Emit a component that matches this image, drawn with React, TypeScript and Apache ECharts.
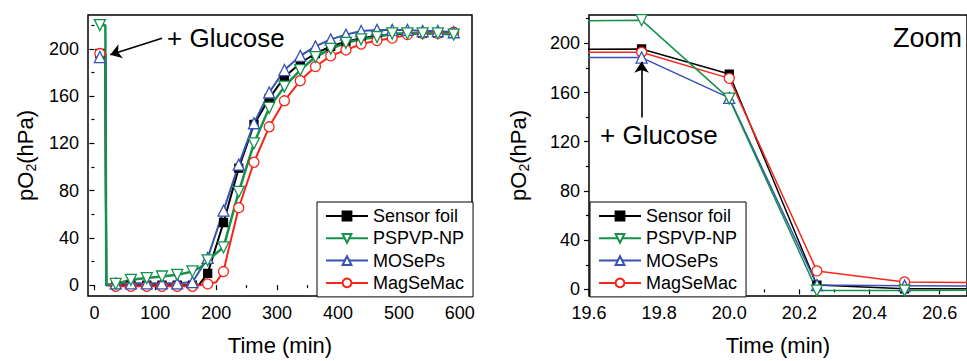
import React, { useEffect, useRef } from "react";
import * as echarts from "echarts";

const FONT = "'Liberation Sans', Arial, Helvetica, sans-serif";

const seriesNames = ["Sensor foil", "PSPVP-NP", "MOSePs", "MagSeMac"];
const seriesColors = ["#000000", "#14924b", "#3552b4", "#f5261b"];
const seriesSymbols = ["rect", "triangle", "triangle", "circle"];
const seriesSymbolRotate = [0, 180, 0, 0];
const seriesSymbolFill = ["#000000", "#ffffff", "#ffffff", "#ffffff"];
const seriesSymbolSize = [8, 11, 11, 10];

// Full run (left panel): times where markers are drawn
const markerTimes = [9, 35, 60, 86, 111, 136, 161, 186, 212, 237, 262, 287, 312, 338, 363, 388, 413, 438, 464, 489, 514, 539, 564, 590];
const sensorFoilMarkers = [196, 0, 0, 0, 0, 0, 0, 10, 53, 99, 136, 158, 176, 188, 196, 202, 206, 209, 211, 212, 213, 213, 213, 213];
const pspvpMarkers = [220, 1, 4.5, 6, 7.3, 8.7, 11.6, 21, 32, 79, 120, 150, 168, 182, 193, 200, 205, 208, 210, 213, 213, 213, 213, 212];
const mosepsMarkers = [193, 1.5, 1.5, 1.5, 1.5, 1.5, 2.5, 23, 63, 102, 137, 163, 182, 194, 202, 208, 212, 215, 216, 216, 216, 215, 215, 214];
const magsemacMarkers = [196, -1, -1, -1, -1, -1, -1, 1, 11.5, 65.5, 104, 134, 156, 173, 185, 194, 199, 204, 207, 209, 212, 213, 213, 214];

// Extra points on the traces (no marker)
const sensorFoilTrace = [[18, 196], [19.5, 0], [172, 0.5]];
const pspvpTrace = [[18, 220], [19.5, 0], [24, 0.5], [174, 15]];
const mosepsTrace = [[18, 193], [19.5, 0]];
const magsemacTrace = [[18, 196], [19.5, 0], [200, 2.5], [218, 25]];

// Zoom (right panel)
const zoomTimes = [19.5, 19.75, 20.0, 20.25, 20.5, 20.75];
const sensorFoilZoom = [195, 195.4, 175, 3.5, 0.5, 0.5];
const pspvpZoom = [218, 218.8, 155, -1, -1, -0.5];
const mosepsZoom = [188.4, 188.4, 155.6, 3.5, 3, 2.5];
const magsemacZoom = [192.7, 192.7, 171.5, 15, 6, 5.5];

// Ticks
const leftXTicks = [0, 100, 200, 300, 400, 500, 600];
const leftXMinor = [50, 150, 250, 350, 450, 550];
const yTicks = [0, 40, 80, 120, 160, 200];
const yMinor = [20, 60, 100, 140, 180, 220];
const rightXTicks = [19.6, 19.8, 20.0, 20.2, 20.4, 20.6];
const rightXMinor = [19.7, 19.9, 20.1, 20.3, 20.5];

function buildFull(markers: number[], trace: number[][]) {
  const pts: any[] = markerTimes.map((t, i) => ({ value: [t, markers[i]] }));
  const extra = trace.map(([t, y]) => ({ value: [t, y], symbol: "none" }));
  return [...pts, ...extra].sort((a, b) => a.value[0] - b.value[0]);
}

export default function App() {
  const ref = useRef<HTMLDivElement>(null);
  useEffect(() => {
    if (!ref.current) return;
    const chart = echarts.init(ref.current, undefined, { renderer: "svg" });
    const fullData = [
      buildFull(sensorFoilMarkers, sensorFoilTrace),
      buildFull(pspvpMarkers, pspvpTrace),
      buildFull(mosepsMarkers, mosepsTrace),
      buildFull(magsemacMarkers, magsemacTrace),
    ];
    const zoomData = [sensorFoilZoom, pspvpZoom, mosepsZoom, magsemacZoom].map((arr) =>
      zoomTimes.map((t, i) => [t, arr[i]])
    );
    const drawOrder = [0, 3, 2, 1];
    const axisLabelStyle = { fontSize: 18, color: "#000", fontFamily: FONT };
    const nameStyle = {
      fontSize: 22,
      color: "#000",
      fontFamily: FONT,
      rich: {
        sub: { fontSize: 14, fontFamily: FONT, color: "#000", verticalAlign: "bottom", padding: [12, 0, 0, 0] },
      },
    };
    const mkSeries = (i: number, panel: number, order: number) => ({
      type: "line",
      name: seriesNames[i],
      xAxisIndex: panel === 0 ? 0 : 2,
      yAxisIndex: panel === 0 ? 0 : 2,
      data: panel === 0 ? fullData[i] : zoomData[i],
      symbol: seriesSymbols[i],
      symbolRotate: seriesSymbolRotate[i],
      symbolSize: seriesSymbolSize[i],
      showAllSymbol: true,
      clip: true,
      lineStyle: { color: seriesColors[i], width: panel === 0 ? (i === 1 ? 2.5 : 2) : 1.5 },
      itemStyle: { color: seriesSymbolFill[i], borderColor: seriesColors[i], borderWidth: 1.3 },
      emphasis: { disabled: true },
      z: 3,
      zlevel: 0,
    });
    const series: any[] = [];
    drawOrder.forEach((i, k) => series.push(mkSeries(i, 0, k)));
    drawOrder.forEach((i, k) => series.push(mkSeries(i, 1, k)));
    const arrowLine = {
      silent: true,
      symbol: ["none", "arrow"],
      symbolSize: 11,
      lineStyle: { color: "#000", width: 1.6, type: "solid" },
      label: { show: false },
      emphasis: { disabled: true },
    };
    series.push({
      type: "line",
      xAxisIndex: 0,
      yAxisIndex: 0,
      data: [],
      markLine: { ...arrowLine, data: [[{ coord: [111, 209] }, { coord: [26, 195] }]] },
    });
    series.push({
      type: "line",
      xAxisIndex: 2,
      yAxisIndex: 2,
      data: [],
      markLine: { ...arrowLine, data: [[{ coord: [19.75, 139.6] }, { coord: [19.75, 185] }]] },
    });

    const legendBase = {
      orient: "vertical",
      top: 202,
      backgroundColor: "#fff",
      borderColor: "#000",
      borderWidth: 1,
      borderRadius: 0,
      padding: [4, 9, 4, 8],
      itemWidth: 42,
      itemHeight: 11,
      itemGap: 2.3,
      selectedMode: false,
      data: seriesNames,
      textStyle: { fontSize: 18, color: "#000", fontFamily: FONT, lineHeight: 20 },
      z: 10,
    };

    chart.setOption({
      animation: false,
      textStyle: { fontFamily: FONT },
      grid: [
        { left: 88, top: 15, width: 384, height: 283, show: true, borderColor: "#000", borderWidth: 1.5, backgroundColor: "transparent" },
        { left: 589, top: 15, width: 388, height: 283, show: true, borderColor: "#000", borderWidth: 1.5, backgroundColor: "transparent" },
      ],
      xAxis: [
        {
          gridIndex: 0, type: "value", min: -10.5, max: 620, position: "bottom",
          axisLine: { show: false }, splitLine: { show: false },
          axisTick: { show: true, inside: false, length: 5, customValues: leftXTicks, lineStyle: { color: "#000", width: 1.2 } },
          axisLabel: { ...axisLabelStyle, margin: 8, customValues: leftXTicks },
          name: "Time (min)", nameLocation: "middle", nameGap: 38, nameTextStyle: { fontSize: 22, color: "#000", fontFamily: FONT, fontWeight: "normal" },
        },
        {
          gridIndex: 0, type: "value", min: -10.5, max: 620, position: "bottom",
          axisLine: { show: false }, splitLine: { show: false }, axisLabel: { show: false },
          axisTick: { show: true, inside: false, length: 3, customValues: leftXMinor, lineStyle: { color: "#000", width: 1.2 } },
        },
        {
          gridIndex: 1, type: "value", min: 19.6, max: 20.678, position: "bottom",
          axisLine: { show: false }, splitLine: { show: false },
          axisTick: { show: true, inside: false, length: 5, customValues: rightXTicks, lineStyle: { color: "#000", width: 1.2 } },
          axisLabel: { ...axisLabelStyle, margin: 8, customValues: rightXTicks, formatter: (v: number) => v.toFixed(1) },
          name: "Time (min)", nameLocation: "middle", nameGap: 38, nameTextStyle: { fontSize: 22, color: "#000", fontFamily: FONT, fontWeight: "normal" },
        },
        {
          gridIndex: 1, type: "value", min: 19.6, max: 20.678, position: "bottom",
          axisLine: { show: false }, splitLine: { show: false }, axisLabel: { show: false },
          axisTick: { show: true, inside: false, length: 3, customValues: rightXMinor, lineStyle: { color: "#000", width: 1.2 } },
        },
      ],
      yAxis: [
        {
          gridIndex: 0, type: "value", min: -9.2, max: 228.6, position: "left",
          axisLine: { show: false }, splitLine: { show: false },
          axisTick: { show: true, inside: false, length: 5, customValues: yTicks, lineStyle: { color: "#000", width: 1.2 } },
          axisLabel: { ...axisLabelStyle, margin: 9, customValues: yTicks },
          name: "pO{sub|2}(hPa)", nameLocation: "middle", nameGap: 50, nameTextStyle: nameStyle,
        },
        {
          gridIndex: 0, type: "value", min: -9.2, max: 228.6, position: "left",
          axisLine: { show: false }, splitLine: { show: false }, axisLabel: { show: false },
          axisTick: { show: true, inside: false, length: 3, customValues: yMinor, lineStyle: { color: "#000", width: 1.2 } },
        },
        {
          gridIndex: 1, type: "value", min: -5.4, max: 223, position: "left",
          axisLine: { show: false }, splitLine: { show: false },
          axisTick: { show: true, inside: false, length: 5, customValues: yTicks, lineStyle: { color: "#000", width: 1.2 } },
          axisLabel: { ...axisLabelStyle, margin: 9, customValues: yTicks },
          name: "pO{sub|2}(hPa)", nameLocation: "middle", nameGap: 58, nameTextStyle: nameStyle,
        },
        {
          gridIndex: 1, type: "value", min: -5.4, max: 223, position: "left",
          axisLine: { show: false }, splitLine: { show: false }, axisLabel: { show: false },
          axisTick: { show: true, inside: false, length: 3, customValues: yMinor, lineStyle: { color: "#000", width: 1.2 } },
        },
      ],
      legend: [
        { ...legendBase, left: 317 },
        { ...legendBase, left: 590 },
      ],
      graphic: [
        { type: "text", x: 167, y: 38, style: { text: "+ Glucose", fontSize: 26, fontFamily: FONT, fill: "#000", verticalAlign: "middle", align: "left" }, z: 20 },
        { type: "text", x: 600, y: 135, style: { text: "+ Glucose", fontSize: 26, fontFamily: FONT, fill: "#000", verticalAlign: "middle", align: "left" }, z: 20 },
        { type: "text", x: 893, y: 38, style: { text: "Zoom", fontSize: 27, fontFamily: FONT, fill: "#000", verticalAlign: "middle", align: "left" }, z: 20 },
      ],
      series,
    });
    return () => chart.dispose();
  }, []);
  return (
    <div
      ref={ref}
      style={{ position: "absolute", left: 0, top: 0, width: 967, height: 361, background: "#fff", overflow: "hidden" }}
    />
  );
}
